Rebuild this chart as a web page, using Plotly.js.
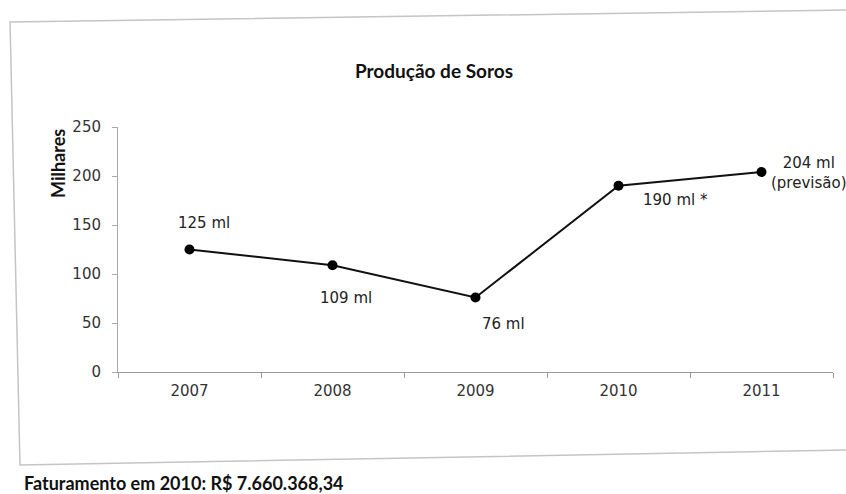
<!DOCTYPE html>
<html>
<head>
<meta charset="utf-8">
<script src="https://cdn.plot.ly/plotly-3.0.1.min.js"></script>
<style>
html,body{margin:0;padding:0;background:#fff;}
#chart{width:846px;height:494px;}
</style>
</head>
<body>
<div id="chart"></div>
<script>
const years = ["2007", "2008", "2009", "2010", "2011"];
const production = [125, 109, 76, 190, 204];
const pointLabels = ["125 ml", "109 ml", "76 ml", "190 ml *", "204 ml<br>(previsão)"];
const yTicks = [0, 50, 100, 150, 200, 250];
const chartTitle = "Produção de Soros";
const yTitle = "Milhares";
const footer = "Faturamento em 2010: R$ 7.660.368,34";

// label offsets in pixels (relative to each point)
const labelShift = [[14, 27], [13, -33], [28, -26], [57, -14], [47, -1]];

const W = 846, H = 494;
const L = 118, R = 13, T = 127, B = 122;
const pw = W - L - R, ph = H - T - B;
const px = v => (v - L) / pw;
const py = v => (H - B - v) / ph;

const tickFont = {family: "DejaVu Sans, Verdana, sans-serif", size: 15, color: "#333"};
const labelFont = {family: "DejaVu Sans, Verdana, sans-serif", size: 15, color: "#222"};

const annotations = years.map((y, i) => ({
  x: i, y: production[i], xref: "x", yref: "y",
  text: pointLabels[i], showarrow: false,
  xshift: labelShift[i][0], yshift: labelShift[i][1],
  font: labelFont, align: "center"
}));

annotations.push({
  x: px(58), y: py(164), xref: "paper", yref: "paper",
  text: "<b>" + yTitle + "</b>", textangle: -90, showarrow: false,
  xanchor: "center", yanchor: "middle",
  font: {family: "Lato, 'Open Sans', sans-serif", size: 18, color: "#111"}
});
annotations.push({
  x: px(22), y: py(483), xref: "paper", yref: "paper",
  text: "<b>" + footer + "</b>", showarrow: false,
  xanchor: "left", yanchor: "middle",
  font: {family: "Lato, 'Open Sans', sans-serif", size: 18, color: "#111"}
});

const trace = {
  x: years, y: production, type: "scatter", mode: "lines+markers",
  line: {color: "#111", width: 2},
  marker: {color: "#000", size: 10},
  hoverinfo: "skip"
};

const frame = [[10, 22], [850, 10], [850, 450], [20, 465]]
  .map(p => px(p[0]).toFixed(4) + "," + py(p[1]).toFixed(4));

const layout = {
  width: W, height: H,
  margin: {l: L, r: R, t: T, b: B, pad: 0},
  paper_bgcolor: "#fff", plot_bgcolor: "#fff",
  showlegend: false,
  title: {
    text: "<b>" + chartTitle + "</b>",
    x: 434 / W, y: 1 - 71 / H, xref: "container", yref: "container",
    xanchor: "center", yanchor: "middle",
    font: {family: "Lato, 'Open Sans', sans-serif", size: 19, color: "#111"}
  },
  xaxis: {
    type: "category", range: [-0.5, 4.5], fixedrange: true,
    showgrid: false, zeroline: false,
    showline: true, linecolor: "#999", linewidth: 1,
    ticks: "outside", tickson: "boundaries", ticklen: 5, tickcolor: "#999",
    tickfont: tickFont, ticklabelstandoff: 5
  },
  yaxis: {
    range: [0, 250], tickvals: yTicks, fixedrange: true,
    showgrid: false, zeroline: false,
    showline: true, linecolor: "#aaa", linewidth: 1,
    ticks: "outside", ticklen: 5, tickcolor: "#aaa",
    tickfont: tickFont, ticklabelstandoff: 8
  },
  shapes: [{
    type: "path", xref: "paper", yref: "paper",
    path: "M" + frame.join("L") + "Z",
    line: {color: "#c4c4c4", width: 1.5}, fillcolor: "rgba(0,0,0,0)", layer: "below"
  }],
  annotations: annotations
};

Plotly.newPlot("chart", [trace], layout, {displayModeBar: false, staticPlot: true});
</script>
</body>
</html>
